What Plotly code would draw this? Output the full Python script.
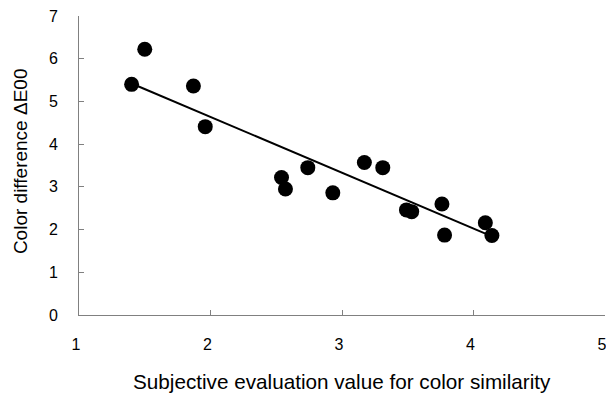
import plotly.graph_objects as go

# Data
subjective = [1.40, 1.50, 1.87, 1.96, 2.54, 2.57, 2.74, 2.93, 3.17, 3.31,
               3.49, 3.53, 3.76, 3.78, 4.09, 4.14]
delta_e00 = [5.40, 6.22, 5.36, 4.41, 3.22, 2.95, 3.45, 2.86, 3.57, 3.45,
             2.46, 2.42, 2.60, 1.87, 2.16, 1.86]
trend_x = [1.40, 4.14]
trend_y = [5.42, 1.84]
x_ticks = [1, 2, 3, 4, 5]
y_ticks = [0, 1, 2, 3, 4, 5, 6, 7]
x_title = "Subjective evaluation value for color similarity"
y_title = "Color difference ΔE00"

FONT = "Arial, Liberation Sans, sans-serif"

fig = go.Figure()
fig.add_trace(go.Scatter(x=trend_x, y=trend_y, mode="lines",
                         line=dict(color="black", width=2), showlegend=False))
fig.add_trace(go.Scatter(x=subjective, y=delta_e00, mode="markers",
                         marker=dict(color="black", size=15), showlegend=False))

axis_common = dict(showgrid=False, zeroline=False, showline=True,
                   linecolor="#808080", linewidth=1, ticks="inside",
                   ticklen=5, tickcolor="#808080", tickwidth=1,
                   automargin=False, ticklabeloverflow="allow",
                   tickfont=dict(family=FONT, size=16, color="black"))

fig.update_xaxes(range=[1, 5], tickvals=x_ticks, ticklabelshift=-3,
                 ticklabelstandoff=15, **axis_common)
fig.update_yaxes(range=[0, 7], tickvals=y_ticks, ticklabelstandoff=17,
                 **axis_common)

fig.add_annotation(text=x_title, xref="paper", yref="paper", x=0.5, y=-0.224,
                   xanchor="center", yanchor="middle", showarrow=False,
                   font=dict(family=FONT, size=20.7, color="black"))
fig.add_annotation(text=y_title, xref="paper", yref="paper", x=-0.112, y=0.515,
                   xanchor="center", yanchor="middle", showarrow=False,
                   textangle=-90,
                   font=dict(family=FONT, size=19, color="black"))

fig.update_layout(width=606, height=394,
                  margin=dict(l=79, r=1, t=16, b=79),
                  paper_bgcolor="white", plot_bgcolor="white")

fig.write_html("out.html", config={"displayModeBar": False},
               post_script="document.body.style.margin='0';"
                           "document.body.style.overflow='hidden';")
